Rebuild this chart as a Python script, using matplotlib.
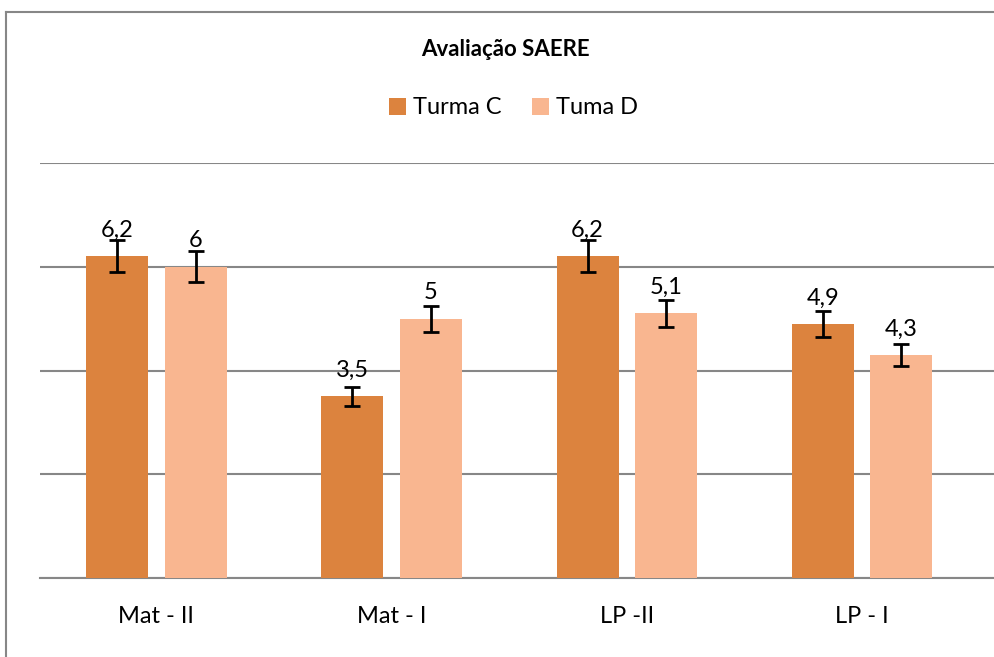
import numpy as np
import matplotlib
matplotlib.use('Agg')
import matplotlib.pyplot as plt
from matplotlib.lines import Line2D

plt.rcParams['font.family'] = ['Lato', 'DejaVu Sans']

categories = ["Mat - II", "Mat - I", "LP -II", "LP - I"]
turma_c = [6.2, 3.5, 6.2, 4.9]
turma_d = [6.0, 5.0, 5.1, 4.3]
err_pct = 0.05

col_c = '#DC833E'
col_d = '#F9B690'
grid_col = '#878787'

fig = plt.figure(figsize=(9.95, 6.57), dpi=100)
ax = fig.add_axes([40 / 995, 1 - 578 / 657, 1 - 40 / 995, (578 - 163) / 657])

x = np.arange(len(categories))
w = 0.264
off = 0.167
err_c = [v * err_pct for v in turma_c]
err_d = [v * err_pct for v in turma_d]

b1 = ax.bar(x - off, turma_c, w, color=col_c, label="Turma C", zorder=3,
            yerr=err_c, error_kw=dict(ecolor='black', elinewidth=2, capsize=6, capthick=2, zorder=4))
b2 = ax.bar(x + off, turma_d, w, color=col_d, label="Tuma D", zorder=3,
            yerr=err_d, error_kw=dict(ecolor='black', elinewidth=2, capsize=6, capthick=2, zorder=4))

for xs, vals in [(x - off, turma_c), (x + off, turma_d)]:
    for xi, v in zip(xs, vals):
        ax.annotate(f"{v:g}".replace('.', ','), (xi, v), xytext=(0, 11), textcoords='offset points',
                    ha='center', va='bottom', fontsize=17, zorder=5)

ax.set_xlim(-0.495, 3.565)
ax.set_ylim(0, 8)
ax.set_yticks([0, 2, 4, 6, 8])
ax.yaxis.grid(True, color=grid_col, linewidth=1.5, zorder=0)
ax.set_yticklabels([])
ax.tick_params(axis='y', length=0)
ax.set_xticks(x)
ax.set_xticklabels(categories, fontsize=17)
ax.tick_params(axis='x', length=0, pad=20)
for s in ['top', 'right', 'left']:
    ax.spines[s].set_visible(False)
ax.spines['bottom'].set_color(grid_col)
ax.spines['bottom'].set_linewidth(1.5)

fig.text(0.508, 1 - 50 / 657, "Avaliação SAERE", ha='center', va='center', fontsize=16, fontweight='bold')
fig.legend(handles=[b1, b2], labels=["Turma C", "Tuma D"], loc='center', bbox_to_anchor=(0.516, 1 - 108 / 657),
           ncol=2, frameon=False, fontsize=17, handlelength=0.7, handleheight=0.7, handletextpad=0.3,
           columnspacing=1.3)

# outer chart border (cropped on right and bottom)
fig.add_artist(Line2D([5.5 / 995, 5.5 / 995], [0, 1 - 12 / 657], color=grid_col, linewidth=1.5))
fig.add_artist(Line2D([5.5 / 995, 1], [1 - 12 / 657, 1 - 12 / 657], color=grid_col, linewidth=1.5))

fig.savefig("out.png", dpi=100)
plt.close()
